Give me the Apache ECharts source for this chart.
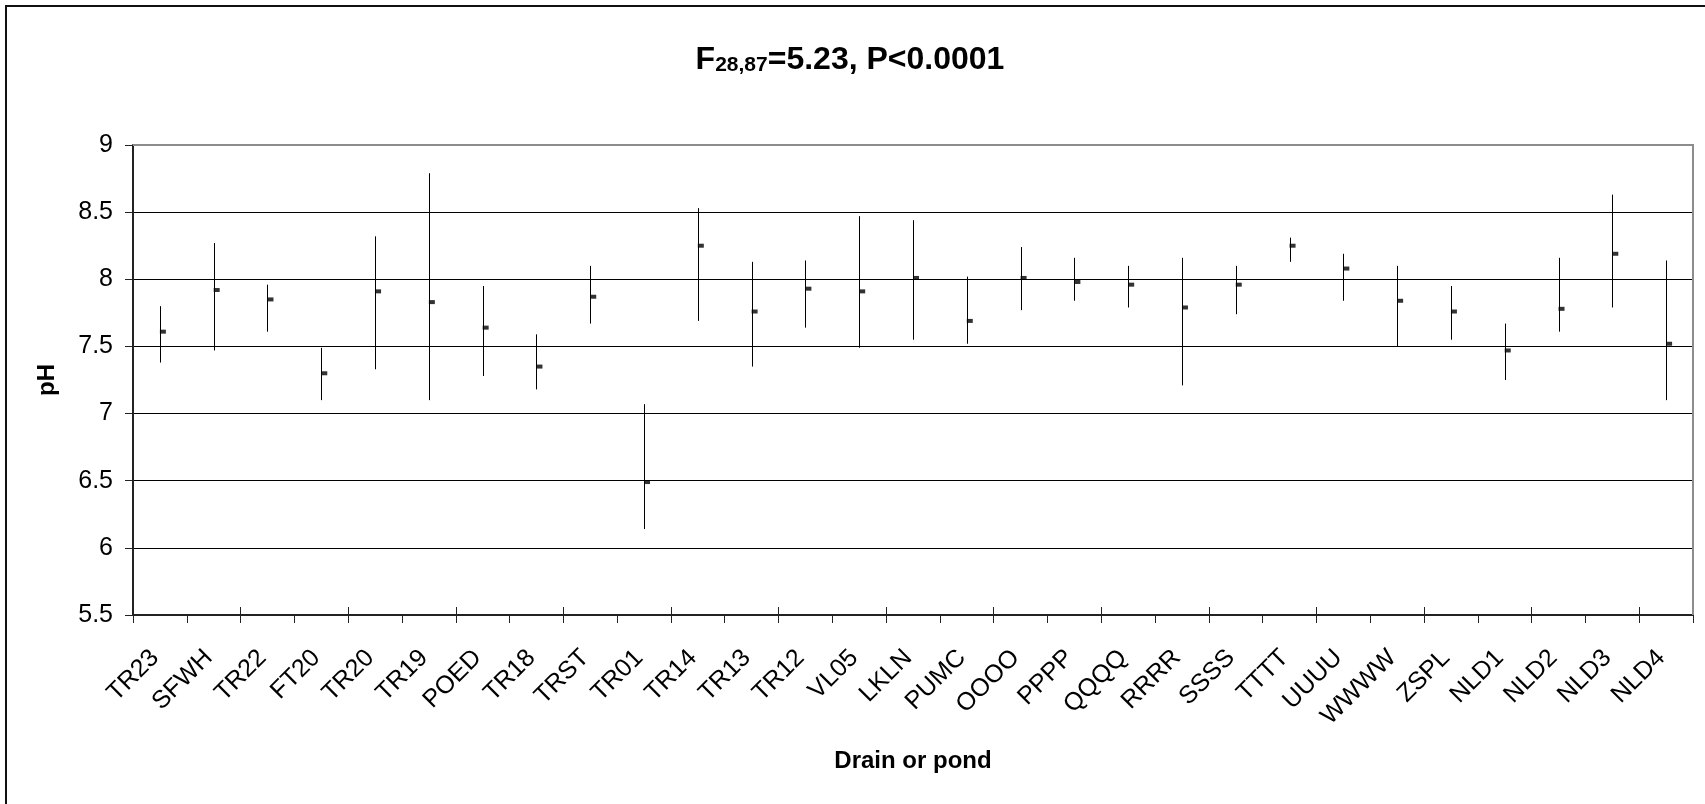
<!DOCTYPE html>
<html>
<head>
<meta charset="utf-8">
<script src="https://cdn.jsdelivr.net/npm/echarts@6/dist/echarts.min.js"></script>
<style>
  html, body { margin: 0; padding: 0; background: #fff; }
  #chart { width: 1705px; height: 804px; }
</style>
</head>
<body>
<div id="chart"></div>
<script>
// Sites (drains and ponds)
const categories = ['TR23','SFWH','TR22','FT20','TR20','TR19','POED','TR18','TRST','TR01',
  'TR14','TR13','TR12','VL05','LKLN','PUMC','OOOO','PPPP','QQQQ','RRRR',
  'SSSS','TTTT','UUUU','WWWW','ZSPL','NLD1','NLD2','NLD3','NLD4'];

// Mean pH per site
const meanPH = [7.61,7.92,7.85,7.30,7.91,7.83,7.64,7.35,7.87,6.49,
  8.25,7.76,7.93,7.91,8.01,7.69,8.01,7.98,7.96,7.79,
  7.96,8.25,8.08,7.84,7.76,7.47,7.78,8.19,7.52];

// Upper end of each error bar
const upperPH = [7.80,8.27,7.96,7.49,8.32,8.79,7.95,7.59,8.10,7.07,
  8.53,8.13,8.14,8.47,8.44,8.02,8.24,8.16,8.10,8.16,
  8.10,8.31,8.19,8.10,7.95,7.67,8.16,8.63,8.14];

// Lower end of each error bar
const lowerPH = [7.38,7.47,7.61,7.10,7.33,7.10,7.28,7.18,7.67,6.14,
  7.69,7.35,7.64,7.49,7.55,7.52,7.77,7.84,7.79,7.21,
  7.74,8.13,7.84,7.50,7.55,7.25,7.61,7.79,7.10];

// Y axis range
const yMin = 5.5, yMax = 9, yStep = 0.5;

const FONT = "'Liberation Sans', Arial, sans-serif";
const chart = echarts.init(document.getElementById('chart'), null, { renderer: 'canvas' });

const errorData = categories.map((c, i) => [i, lowerPH[i], upperPH[i]]);

const option = {
  animation: false,
  backgroundColor: '#fff',
  title: {
    text: '{m|F}{s|28,87}{m|=5.23, P<0.0001}',
    left: 845,
    top: 33,
    textAlign: 'center',
    textStyle: {
      rich: {
        m: { fontSize: 32, fontWeight: 'bold', fontFamily: FONT, color: '#000', lineHeight: 38, verticalAlign: 'bottom' },
        s: { fontSize: 21, fontWeight: 'bold', fontFamily: FONT, color: '#000', lineHeight: 25, verticalAlign: 'bottom' }
      }
    }
  },
  grid: { left: 133, right: 12, top: 145, bottom: 189, containLabel: false },
  xAxis: [
    {
      type: 'category',
      data: categories,
      position: 'bottom',
      name: 'Drain or pond',
      nameLocation: 'middle',
      nameGap: 134,
      nameTextStyle: { fontFamily: FONT, fontSize: 24, fontWeight: 'bold', color: '#000' },
      axisLine: { lineStyle: { color: '#222', width: 2 } },
      axisTick: { show: true, inside: false, length: 8, lineStyle: { color: '#222', width: 1 } },
      axisLabel: {
        rotate: 45,
        interval: 0,
        margin: 34,
        padding: [0, 7, 0, 0],
        fontFamily: FONT,
        fontSize: 25,
        color: '#000'
      },
      splitLine: { show: false }
    },
    {
      type: 'category',
      data: categories,
      position: 'bottom',
      axisLine: { show: false },
      axisTick: { show: true, inside: true, length: 8, lineStyle: { color: '#222', width: 1 } },
      axisLabel: { show: false },
      splitLine: { show: false }
    }
  ],
  yAxis: {
    type: 'value',
    min: yMin,
    max: yMax,
    interval: yStep,
    name: 'pH',
    nameLocation: 'middle',
    nameRotate: 90,
    nameGap: 74,
    nameTextStyle: { fontFamily: FONT, fontSize: 24, fontWeight: 'bold', color: '#000' },
    axisLine: { show: true, lineStyle: { color: '#222', width: 2 } },
    axisTick: { show: true, inside: false, length: 8, lineStyle: { color: '#222', width: 1 } },
    axisLabel: { margin: 20, fontFamily: FONT, fontSize: 25, color: '#000' },
    splitLine: { show: true, lineStyle: { color: '#000', width: 1 } }
  },
  graphic: [
    {
      // chart frame
      type: 'rect',
      silent: true,
      z: 100,
      shape: { x: 6, y: 6, width: 1740, height: 840 },
      style: { fill: 'none', stroke: '#111', lineWidth: 2 }
    },
    {
      // plot area border (top and right edges)
      type: 'polyline',
      silent: true,
      z: 100,
      shape: { points: [[133, 145], [1693, 145], [1693, 615]] },
      style: { fill: 'none', stroke: '#8c8c8c', lineWidth: 2 }
    }
  ],
  series: [
    {
      name: 'range',
      type: 'custom',
      xAxisIndex: 0,
      data: errorData,
      encode: { x: 0, y: [1, 2] },
      renderItem: function (params, api) {
        const i = api.value(0);
        const lo = api.coord([i, api.value(1)]);
        const hi = api.coord([i, api.value(2)]);
        const x = Math.round(lo[0]) + 0.5;
        return {
          type: 'line',
          shape: { x1: x, y1: lo[1], x2: x, y2: hi[1] },
          style: { stroke: '#000', lineWidth: 1 }
        };
      },
      z: 3
    },
    {
      name: 'mean',
      type: 'scatter',
      xAxisIndex: 0,
      data: meanPH,
      symbol: 'rect',
      symbolSize: [6, 4],
      symbolOffset: [3, 0],
      itemStyle: { color: '#000' },
      z: 4
    }
  ]
};

chart.setOption(option);
</script>
</body>
</html>
